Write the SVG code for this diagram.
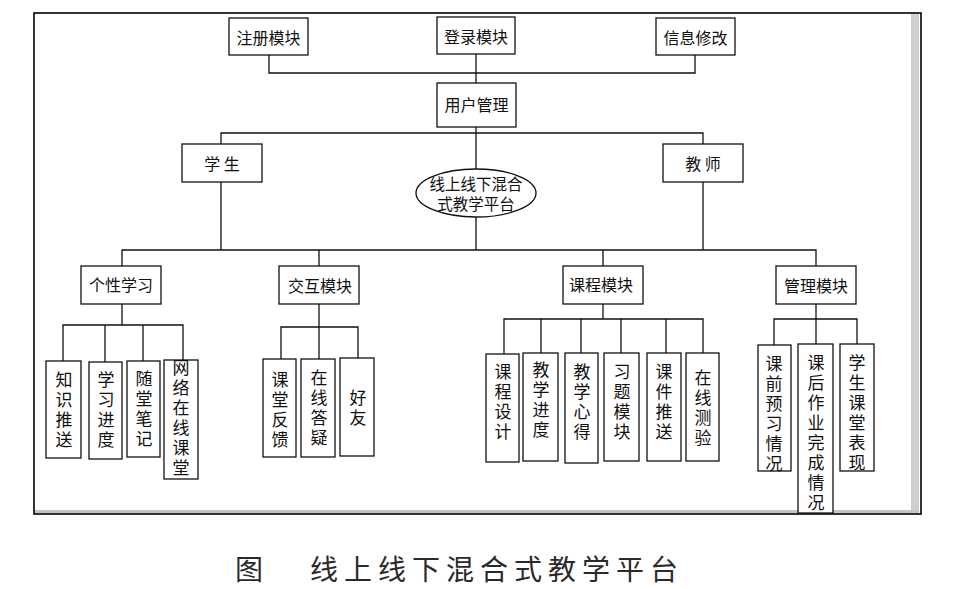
<svg xmlns="http://www.w3.org/2000/svg" width="956" height="589" viewBox="0 0 956 589">
<style>
.bx{fill:#fff;stroke:#111;stroke-width:1.3}
.ln{fill:none;stroke:#111;stroke-width:1.3}
.t{font-family:"Noto Sans CJK SC","Noto Sans",sans-serif;font-size:16px;fill:#111;text-anchor:middle;dominant-baseline:central}
.e{font-family:"Noto Sans CJK SC","Noto Sans",sans-serif;font-size:15.5px;fill:#111;text-anchor:middle;dominant-baseline:central}
.v{font-family:"Noto Sans CJK SC","Noto Sans",sans-serif;font-size:17px;fill:#111;text-anchor:middle;writing-mode:vertical-rl;letter-spacing:3px}
.cap{font-family:"Noto Sans CJK SC","Noto Sans",sans-serif;font-size:28px;fill:#2a2a2a}
</style>
<rect x="0" y="0" width="956" height="589" fill="#fff"/>
<g id="frame">
<rect x="34" y="13" width="887" height="501" fill="#fff" stroke="#000" stroke-width="1.6"/>
<rect x="911" y="14" width="8" height="498" fill="#cfcfcf"/>
<rect x="35" y="510" width="884" height="3" fill="#c4c4c4"/>
</g>
<g id="connectors" class="ln">
<path d="M269 55V73H695V55"/>
<path d="M476 54V83"/>
<path d="M476 127V170"/>
<path d="M221 144V133H703V144"/>
<path d="M221 182V250"/>
<path d="M703 182V250"/>
<path d="M476 217V250"/>
<path d="M122 266V250H816V266"/>
<path d="M319 250V266"/>
<path d="M603 250V266"/>
<path d="M122 304V325"/>
<path d="M63 361V325H183V360"/>
<path d="M105 325V362"/>
<path d="M143 325V361"/>
<path d="M319 304V359"/>
<path d="M281 359V327H358V358"/>
<path d="M603 304V319"/>
<path d="M504 354V319H703V353"/>
<path d="M541 319V353"/>
<path d="M581 319V353"/>
<path d="M621 319V353"/>
<path d="M666 319V353"/>
<path d="M816 304V344"/>
<path d="M774 345V319H857V344"/>
</g>
<g id="n-zhuce"><rect class="bx" x="229" y="18" width="79" height="37"/><text class="t" x="268.5" y="37">注册模块</text></g>
<g id="n-denglu"><rect class="bx" x="437" y="17" width="78" height="37"/><text class="t" x="476" y="36">登录模块</text></g>
<g id="n-xinxi"><rect class="bx" x="656" y="18" width="79" height="37"/><text class="t" x="695.5" y="37">信息修改</text></g>
<g id="n-yonghu"><rect class="bx" x="437" y="83" width="79" height="44"/><text class="t" x="476.5" y="104">用户管理</text></g>
<g id="n-xuesheng"><rect class="bx" x="182" y="144" width="80" height="38"/><text class="t" x="222" y="163" xml:space="preserve">学 生</text></g>
<g id="n-jiaoshi"><rect class="bx" x="663" y="144" width="80" height="38"/><text class="t" x="703" y="163" xml:space="preserve">教 师</text></g>
<g id="n-platform"><ellipse cx="476" cy="193" rx="60" ry="24" fill="#fff" stroke="#111" stroke-width="1.3"/><text class="e" x="476" y="182.5">线上线下混合</text><text class="e" x="476" y="203">式教学平台</text></g>
<g id="n-gexing"><rect class="bx" x="81" y="266" width="80" height="38"/><text class="t" x="121" y="284">个性学习</text></g>
<g id="n-jiaohu"><rect class="bx" x="279" y="266" width="80" height="38"/><text class="t" x="320" y="285">交互模块</text></g>
<g id="n-kecheng"><rect class="bx" x="563" y="266" width="80" height="38"/><text class="t" x="601" y="284">课程模块</text></g>
<g id="n-guanli"><rect class="bx" x="776" y="266" width="80" height="38"/><text class="t" x="816" y="285">管理模块</text></g>
<g id="n-zhishi"><rect class="bx" x="46" y="361" width="35" height="97"/><text class="v" x="64" y="411">知识推送</text></g>
<g id="n-jindu"><rect class="bx" x="89" y="362" width="33" height="97"/><text class="v" x="106" y="411">学习进度</text></g>
<g id="n-suitang"><rect class="bx" x="127" y="361" width="33" height="96"/><text class="v" x="144" y="410">随堂笔记</text></g>
<g id="n-wangluo"><rect class="bx" x="164" y="360" width="34" height="119"/><text class="v" x="181" y="419">网络在线课堂</text></g>
<g id="n-fankui"><rect class="bx" x="263" y="359" width="33" height="98"/><text class="v" x="280" y="411">课堂反馈</text></g>
<g id="n-dayi"><rect class="bx" x="301" y="359" width="34" height="98"/><text class="v" x="319" y="409">在线答疑</text></g>
<g id="n-haoyou"><rect class="bx" x="340" y="358" width="34" height="98"/><text class="v" x="358" y="409">好友</text></g>
<g id="n-sheji"><rect class="bx" x="486" y="354" width="33" height="108"/><text class="v" x="503" y="403">课程设计</text></g>
<g id="n-jxjindu"><rect class="bx" x="523" y="353" width="35" height="108"/><text class="v" x="541" y="401">教学进度</text></g>
<g id="n-xinde"><rect class="bx" x="565" y="353" width="33" height="110"/><text class="v" x="582" y="403">教学心得</text></g>
<g id="n-xiti"><rect class="bx" x="604" y="353" width="35" height="108"/><text class="v" x="622" y="403">习题模块</text></g>
<g id="n-kejian"><rect class="bx" x="647" y="353" width="34" height="108"/><text class="v" x="664" y="403">课件推送</text></g>
<g id="n-ceyan"><rect class="bx" x="686" y="353" width="33" height="108"/><text class="v" x="703" y="409">在线测验</text></g>
<g id="n-yuxi"><rect class="bx" x="758" y="345" width="33" height="126"/><text class="v" x="774" y="415">课前预习情况</text></g>
<g id="n-zuoye"><rect class="bx" x="798" y="344" width="35" height="169"/><text class="v" x="816" y="434">课后作业完成情况</text></g>
<g id="n-biaoxian"><rect class="bx" x="840" y="344" width="34" height="127"/><text class="v" x="857" y="414">学生课堂表现</text></g>
<g id="caption">
<text class="cap" x="235" y="580">图</text>
<text class="cap" x="310" y="580" letter-spacing="6">线上线下混合式教学平台</text>
</g>
</svg>
